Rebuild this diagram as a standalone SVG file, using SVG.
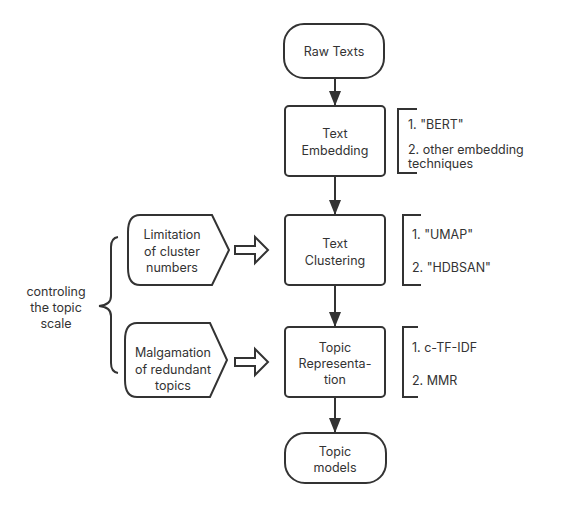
<svg xmlns="http://www.w3.org/2000/svg" width="577" height="508" viewBox="0 0 577 508">
<style>
.box{fill:#fff;stroke:#333;stroke-width:2}
.ln{fill:none;stroke:#333;stroke-width:2}
.t{font-family:Inter,"Noto Sans",sans-serif;font-size:12.5px;fill:#333}
.c{text-anchor:middle}
</style>
<defs>
<marker id="ahd" markerWidth="15" markerHeight="12" refX="14" refY="6" orient="auto" markerUnits="userSpaceOnUse">
<path d="M0,0 L15,6 L0,12 Z" fill="#333"/>
</marker>
</defs>
<rect width="577" height="508" fill="#fff"/>
<g id="connectors">
<line class="ln" x1="335" y1="78" x2="335" y2="105" marker-end="url(#ahd)"/>
<line class="ln" x1="335" y1="176" x2="335" y2="214" marker-end="url(#ahd)"/>
<line class="ln" x1="335" y1="285" x2="335" y2="326" marker-end="url(#ahd)"/>
<line class="ln" x1="335" y1="397" x2="335" y2="432" marker-end="url(#ahd)"/>
<path class="ln" d="M235,246 L255,246 L255,237 L268,250 L255,263 L255,254 L235,254 Z" stroke-width="1.8"/>
<path class="ln" d="M235,358 L255,358 L255,349 L268,362 L255,375 L255,366 L235,366 Z" stroke-width="1.8"/>
<path class="ln" d="M118,237 Q111,238 111,247 L111,296 Q111,305 99,306 Q111,307 111,316 L111,363 Q111,372 118,373"/>
</g>
<g id="raw-texts">
<rect class="box" x="284" y="24" width="100" height="54" rx="20"/>
<text class="t c" x="334" y="56">Raw Texts</text>
</g>
<g id="text-embedding">
<rect class="box" x="285" y="106" width="100" height="70" rx="4"/>
<text class="t c" x="335" y="138">Text</text>
<text class="t c" x="335" y="155">Embedding</text>
</g>
<g id="embedding-notes">
<path class="ln" d="M417,109 L398,109 L398,173 L417,173"/>
<text class="t" x="408" y="129">1. "BERT"</text>
<text class="t" x="408" y="154">2. other embedding</text>
<text class="t" x="408" y="168">techniques</text>
</g>
<g id="text-clustering">
<rect class="box" x="285" y="215" width="100" height="70" rx="4"/>
<text class="t c" x="335" y="248">Text</text>
<text class="t c" x="335" y="265">Clustering</text>
</g>
<g id="clustering-notes">
<path class="ln" d="M421,215 L403,215 L403,285 L421,285"/>
<text class="t" x="412" y="239">1. "UMAP"</text>
<text class="t" x="412" y="272">2. "HDBSAN"</text>
</g>
<g id="topic-representation">
<rect class="box" x="285" y="327" width="100" height="70" rx="4"/>
<text class="t c" x="335" y="352">Topic</text>
<text class="t c" x="335" y="368">Representa-</text>
<text class="t c" x="335" y="384">tion</text>
</g>
<g id="representation-notes">
<path class="ln" d="M418,327 L403,327 L403,397 L418,397"/>
<text class="t" x="412" y="352">1. c-TF-IDF</text>
<text class="t" x="412" y="385">2. MMR</text>
</g>
<g id="topic-models">
<rect class="box" x="285" y="433" width="101" height="50" rx="20"/>
<text class="t c" x="335" y="456">Topic</text>
<text class="t c" x="335" y="472">models</text>
</g>
<g id="limitation">
<path class="box" d="M140,215 L212,215 L229,250 L212,285 L140,285 Q128,285 128,268 L128,232 Q128,215 140,215 Z"/>
<text class="t c" x="172" y="239">Limitation</text>
<text class="t c" x="172" y="256">of cluster</text>
<text class="t c" x="172" y="272">numbers</text>
</g>
<g id="malgamation">
<path class="box" d="M137,323 L210,323 L227,360 L210,397 L137,397 Q125,397 125,380 L125,340 Q125,323 137,323 Z"/>
<text class="t c" x="173" y="357">Malgamation</text>
<text class="t c" x="173" y="374">of redundant</text>
<text class="t c" x="173" y="390">topics</text>
</g>
<g id="controlling-label">
<text class="t c" x="56" y="296">controling</text>
<text class="t c" x="56" y="312">the topic</text>
<text class="t c" x="56" y="328">scale</text>
</g>
</svg>
